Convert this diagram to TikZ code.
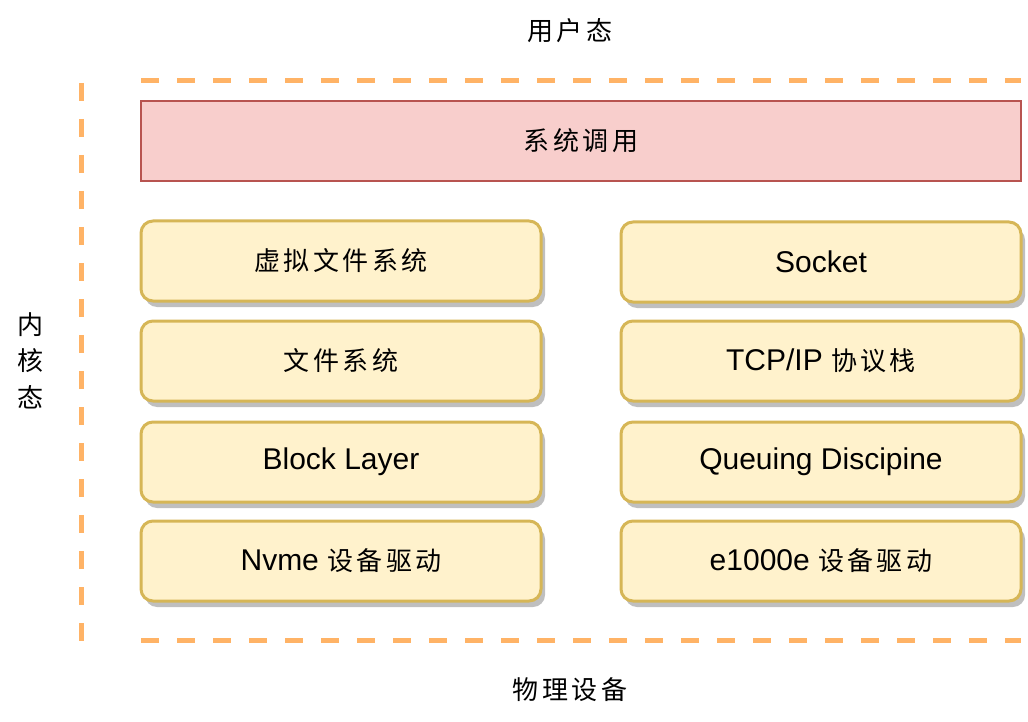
\documentclass[tikz,border=0pt]{standalone}
\usepackage{fontspec}
\setmainfont{Liberation Sans}
\newfontfamily\zhfont{Noto Sans CJK SC}[LetterSpace=13]
\newcommand{\zh}[1]{{\fontsize{26}{30}\zhfont #1\hspace{-3.4pt}}}
\newcommand{\la}[1]{{\fontsize{30}{34}\selectfont #1}}
\usetikzlibrary{shadows}
\definecolor{dashor}{HTML}{FFB366}
\definecolor{redfill}{HTML}{F8CECC}
\definecolor{redline}{HTML}{B85450}
\definecolor{yelfill}{HTML}{FFF2CC}
\definecolor{yelline}{HTML}{D6B656}
\begin{document}
\begin{tikzpicture}[x=1pt,y=-1pt,
  layerline/.style={draw=dashor,line width=5pt,dash pattern=on 18pt off 18pt},
  sysbox/.style={draw=redline,fill=redfill,line width=1.5pt,minimum width=880pt,minimum height=80pt,inner sep=0pt},
  modbox/.style={draw=yelline,fill=yelfill,line width=3pt,rounded corners=12pt,minimum width=400pt,minimum height=80pt,inner sep=0pt,
    drop shadow={shadow xshift=4pt,shadow yshift=-6pt,fill=black!25,opacity=1}},
  lbl/.style={inner sep=0pt}]
\useasboundingbox (0,0) rectangle (1028,722);
% dashed boundaries
\coordinate (t1) at (141,80.5);
\coordinate (t2) at (1021,80.5);
\coordinate (b1) at (141,640.5);
\coordinate (b2) at (1021,640.5);
\coordinate (v1) at (81,83);
\coordinate (v2) at (81,641);
\draw[layerline] (t1) -- (t2);
\draw[layerline] (b1) -- (b2);
\draw[layerline] (v1) -- (v2);
% labels
\node[lbl] (user) at (570,31) {\zh{用户态}};
\node[lbl] (phys) at (570,690) {\zh{物理设备}};
\node[lbl] (k1) at (30,325) {\zh{内}};
\node[lbl] (k2) at (30,361) {\zh{核}};
\node[lbl] (k3) at (30,397) {\zh{态}};
% system call
\node[sysbox] (sys) at (581,141) {\zh{系统调用}};
% left column
\node[modbox] (vfs) at (341,261) {\zh{虚拟文件系统}};
\node[modbox] (fs) at (341,361) {\zh{文件系统}};
\node[modbox] (blk) at (341,462) {\la{Block Layer}};
\node[modbox] (nvme) at (341,561) {\la{Nvme\ }\zh{设备驱动}};
% right column
\node[modbox] (sock) at (821,262) {\la{Socket}};
\node[modbox] (tcp) at (821,361) {\la{TCP/IP\ }\zh{协议栈}};
\node[modbox] (qd) at (821,462) {\la{Queuing Discipine}};
\node[modbox] (eth) at (821,561) {\la{e1000e\ }\zh{设备驱动}};
\end{tikzpicture}
\end{document}
